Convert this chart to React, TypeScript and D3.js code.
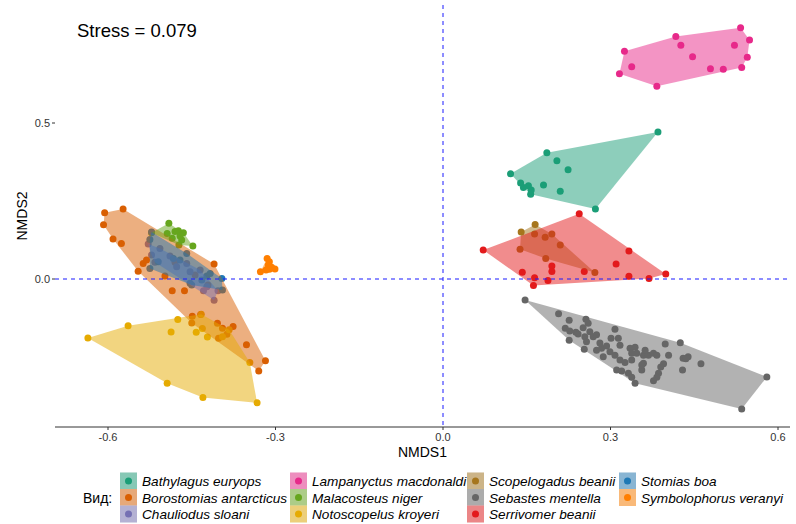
import React from "react";
import * as d3 from "d3";

// Species labels, in legend order
const species = [
  "Bathylagus euryops",
  "Borostomias antarcticus",
  "Chauliodus sloani",
  "Lampanyctus macdonaldi",
  "Malacosteus niger",
  "Notoscopelus kroyeri",
  "Scopelogadus beanii",
  "Sebastes mentella",
  "Serrivomer beanii",
  "Stomias boa",
  "Symbolophorus veranyi",
];

const palette = [
  "#1b9e77", "#d95f02", "#7570b3", "#e7298a", "#66a61e", "#e6ab02",
  "#a6761d", "#666666", "#e31a1c", "#1f78b4", "#ff7f00",
];

// NMDS site scores [NMDS1, NMDS2] per species
const bathylagus = [
  [0.385, 0.471], [0.186, 0.405], [0.204, 0.379], [0.224, 0.35], [0.121, 0.337],
  [0.139, 0.308], [0.144, 0.293], [0.153, 0.299], [0.158, 0.285], [0.157, 0.272],
  [0.18, 0.301], [0.21, 0.281], [0.273, 0.224],
];
const borostomias = [
  [-0.606, 0.212], [-0.573, 0.224], [-0.608, 0.174], [-0.591, 0.128], [-0.576, 0.114],
  [-0.537, 0.05], [-0.531, 0.061], [-0.546, 0.025], [-0.498, 0.01], [-0.485, -0.038],
  [-0.463, -0.038], [-0.41, 0.048], [-0.45, -0.141], [-0.404, -0.142], [-0.376, -0.152],
  [-0.395, -0.158], [-0.387, -0.177], [-0.402, -0.19], [-0.352, -0.211], [-0.318, -0.262],
  [-0.33, -0.295], [-0.434, -0.114], [-0.449, -0.119], [-0.48, 0.054], [-0.444, 0.013],
  [-0.421, -0.019],
];
const chauliodus = [
  [-0.528, 0.112], [-0.522, 0.077], [-0.507, 0.098], [-0.477, 0.039], [-0.453, 0.023],
  [-0.435, 0.029], [-0.429, -0.038], [-0.41, -0.068], [-0.403, -0.038], [-0.423, -0.025],
  [-0.459, 0.05], [-0.489, 0.074], [-0.516, 0.054],
];
const lampanyctus = [
  [0.533, 0.805], [0.549, 0.766], [0.545, 0.711], [0.535, 0.678], [0.502, 0.672],
  [0.479, 0.674], [0.522, 0.749], [0.447, 0.712], [0.426, 0.749], [0.417, 0.777],
  [0.325, 0.73], [0.338, 0.68], [0.316, 0.658], [0.383, 0.618],
];
const malacosteus = [
  [-0.522, 0.148], [-0.491, 0.179], [-0.494, 0.146], [-0.48, 0.152], [-0.474, 0.155],
  [-0.465, 0.148], [-0.468, 0.125], [-0.448, 0.106], [-0.473, 0.109], [-0.485, 0.131],
  [-0.471, 0.138],
];
const notoscopelus = [
  [-0.636, -0.189], [-0.564, -0.15], [-0.475, -0.13], [-0.433, -0.113], [-0.487, -0.17],
  [-0.442, -0.171], [-0.431, -0.159], [-0.422, -0.186], [-0.395, -0.185], [-0.383, -0.163],
  [-0.346, -0.268], [-0.494, -0.334], [-0.43, -0.38], [-0.333, -0.397],
];
const scopelogadus = [
  [0.165, 0.175], [0.14, 0.151], [0.164, 0.144], [0.183, 0.134], [0.195, 0.144],
  [0.21, 0.109], [0.138, 0.095], [0.184, 0.066], [0.272, 0.021],
];
const sebastes = [
  [0.147, -0.067], [0.207, -0.111], [0.226, -0.132], [0.219, -0.158], [0.226, -0.196],
  [0.227, -0.167], [0.238, -0.171], [0.251, -0.156], [0.256, -0.129], [0.26, -0.142],
  [0.263, -0.169], [0.254, -0.185], [0.257, -0.201], [0.253, -0.225], [0.269, -0.185],
  [0.275, -0.179], [0.308, -0.161], [0.301, -0.19], [0.314, -0.19], [0.275, -0.228],
  [0.284, -0.222], [0.293, -0.215], [0.299, -0.233], [0.308, -0.244], [0.287, -0.249],
  [0.317, -0.26], [0.326, -0.268], [0.311, -0.292], [0.32, -0.295], [0.332, -0.302],
  [0.338, -0.315], [0.344, -0.334], [0.335, -0.222], [0.344, -0.219], [0.338, -0.238],
  [0.347, -0.238], [0.338, -0.26], [0.359, -0.244], [0.368, -0.244], [0.377, -0.238],
  [0.383, -0.244], [0.359, -0.27], [0.356, -0.292], [0.395, -0.272], [0.404, -0.244],
  [0.398, -0.208], [0.425, -0.204], [0.43, -0.254], [0.439, -0.249], [0.429, -0.292],
  [0.386, -0.302], [0.383, -0.315], [0.377, -0.326], [0.462, -0.272], [0.58, -0.314],
  [0.535, -0.417], [0.435, -0.256], [0.356, -0.276], [0.39, -0.282], [0.242, -0.176],
  [0.281, -0.205], [0.317, -0.212], [0.362, -0.228],
];
const serrivomer = [
  [0.244, 0.209], [0.072, 0.093], [0.333, 0.09], [0.31, 0.048], [0.399, 0.016],
  [0.369, 0.002], [0.333, 0.009], [0.253, 0.024], [0.195, 0.042], [0.195, 0.024],
  [0.142, 0.022], [0.164, 0.004], [0.188, -0.005], [0.162, -0.021],
];
const stomias = [
  [-0.522, 0.151], [-0.525, 0.127], [-0.525, 0.034], [-0.51, 0.055], [-0.483, 0.066],
  [-0.471, 0.061], [-0.453, -0.014], [-0.432, -0.003], [-0.423, 0.01], [-0.417, 0.018],
  [-0.396, 0.002], [-0.395, -0.035], [-0.459, 0.082], [-0.45, -0.019],
];
const symbolophorus = [
  [-0.315, 0.066], [-0.311, 0.055], [-0.313, 0.045], [-0.307, 0.038], [-0.301, 0.032],
  [-0.317, 0.029], [-0.327, 0.023], [-0.311, 0.031],
];

const groups = [
  bathylagus, borostomias, chauliodus, lampanyctus, malacosteus, notoscopelus,
  scopelogadus, sebastes, serrivomer, stomias, symbolophorus,
];

const xTicks = [-0.6, -0.3, 0.0, 0.3, 0.6];
const yTicks = [0.0, 0.5];
const stressLabel = "Stress = 0.079";

const W = 796;
const H = 524;
const panel = { left: 55, right: 790, top: 5, bottom: 427 };

const x = d3.scaleLinear().domain([-0.6, 0.6]).range([108, 778]);
const y = d3.scaleLinear().domain([0, 0.5]).range([279, 123]);

const font = "'Liberation Sans', Arial, sans-serif";

export default function App() {
  const hulls = groups.map((pts) => {
    const px = pts.map((p) => [x(p[0]), y(p[1])] as [number, number]);
    const hull = d3.polygonHull(px);
    return hull ? "M" + hull.map((p) => p.join(",")).join("L") + "Z" : "";
  });

  const legendCols = [120, 290, 467, 619];
  const legendRows = [481, 497.5, 514];

  return (
    <svg
      width={W}
      height={H}
      style={{ position: "absolute", left: 0, top: 0, background: "#fff" }}
      fontFamily={font}
    >
      <rect width={W} height={H} fill="#fff" />

      {/* points */}
      {groups.map((pts, gi) => (
        <g key={"p" + gi}>
          {pts.map((p, i) => (
            <circle key={i} cx={x(p[0])} cy={y(p[1])} r={3.5} fill={palette[gi]} />
          ))}
        </g>
      ))}

      {/* convex hulls */}
      {hulls.map((d, gi) => (
        <path key={"h" + gi} d={d} fill={palette[gi]} fillOpacity={0.5} stroke="none" />
      ))}

      {/* reference lines through the origin */}
      <line x1={panel.left} x2={panel.right} y1={y(0)} y2={y(0)} stroke="#1a1aff" strokeWidth={1} strokeDasharray="4,4" />
      <line x1={x(0)} x2={x(0)} y1={panel.top} y2={panel.bottom} stroke="#1a1aff" strokeWidth={1} strokeDasharray="4,4" />

      {/* x axis */}
      <line x1={panel.left} x2={panel.right} y1={panel.bottom} y2={panel.bottom} stroke="#333" strokeWidth={1} />
      {xTicks.map((t) => (
        <g key={"xt" + t}>
          <line x1={x(t)} x2={x(t)} y1={panel.bottom} y2={panel.bottom + 3} stroke="#333" strokeWidth={1} />
          <text x={x(t)} y={panel.bottom + 14} textAnchor="middle" fontSize={11} fill="#333">
            {t.toFixed(1)}
          </text>
        </g>
      ))}
      <text x={(panel.left + panel.right) / 2} y={457} textAnchor="middle" fontSize={14} fill="#000">
        NMDS1
      </text>

      {/* y axis */}
      {yTicks.map((t) => (
        <g key={"yt" + t}>
          <line x1={panel.left - 3} x2={panel.left} y1={y(t)} y2={y(t)} stroke="#333" strokeWidth={1} />
          <text x={panel.left - 5} y={y(t) + 4} textAnchor="end" fontSize={11} fill="#333">
            {t.toFixed(1)}
          </text>
        </g>
      ))}
      <text
        transform={`translate(27,${(panel.top + panel.bottom) / 2}) rotate(-90)`}
        textAnchor="middle"
        fontSize={14}
        fill="#000"
      >
        NMDS2
      </text>

      <text x={77} y={37} fontSize={18.5} fill="#000">
        {stressLabel}
      </text>

      {/* legend */}
      <text x={83} y={legendRows[1] + 5} fontSize={14} fill="#000">
        Вид:
      </text>
      {species.map((s, i) => {
        const col = Math.floor(i / 3);
        const row = i % 3;
        const kx = legendCols[col];
        const ky = legendRows[row];
        return (
          <g key={"lg" + i}>
            <rect x={kx} y={ky - 8.5} width={17} height={17} fill="#f2f2f2" />
            <rect x={kx} y={ky - 8.5} width={17} height={17} fill={palette[i]} fillOpacity={0.5} />
            <circle cx={kx + 8.5} cy={ky} r={3.5} fill={palette[i]} />
            <text x={kx + 22} y={ky + 5} fontSize={13.6} fontStyle="italic" fill="#000">
              {s}
            </text>
          </g>
        );
      })}
    </svg>
  );
}
